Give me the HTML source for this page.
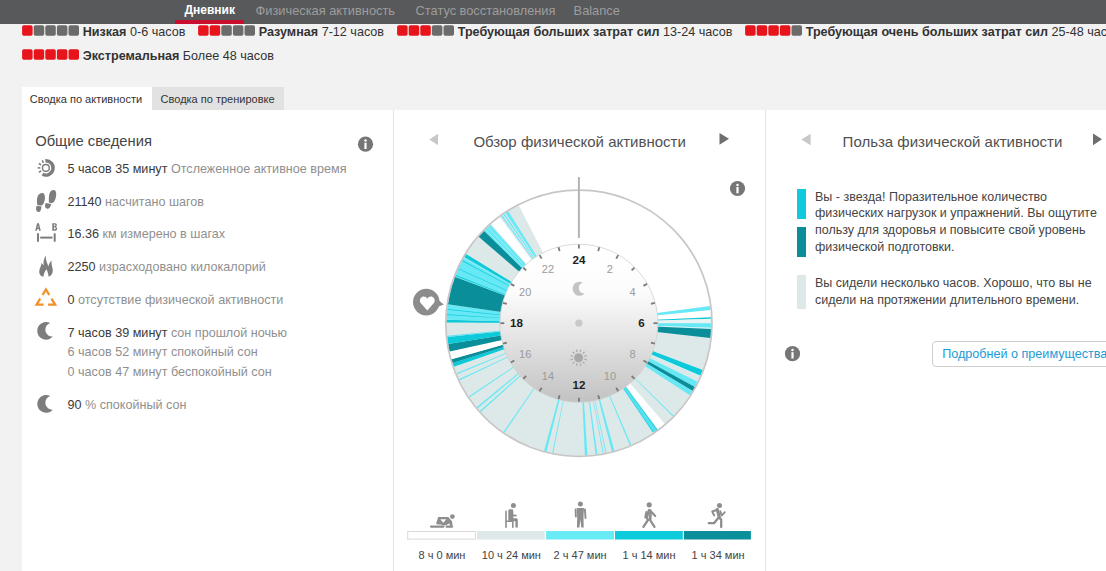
<!DOCTYPE html>
<html><head><meta charset="utf-8"><style>
html,body{margin:0;padding:0;}
body{width:1106px;height:571px;overflow:hidden;position:relative;background:#f2f2f2;font-family:"Liberation Sans",sans-serif;}
.t{position:absolute;white-space:nowrap;}
svg{position:absolute;left:0;top:0;}
</style></head><body>
<div style="position:absolute;left:0px;top:0px;width:1106px;height:24px;background:#58595b;"></div>
<div style="position:absolute;left:175px;top:20px;width:69px;height:4px;background:#c8102e;"></div>
<div class="t" style="left:184.50px;top:4.44px;font-size:12px;line-height:12px;color:#ffffff;font-weight:bold;">Дневник</div>
<div class="t" style="left:255.60px;top:4.96px;font-size:12.8px;line-height:12.8px;color:#9d9d9d;font-weight:normal;">Физическая активность</div>
<div class="t" style="left:415.60px;top:4.96px;font-size:12.8px;line-height:12.8px;color:#9d9d9d;font-weight:normal;">Статус восстановления</div>
<div class="t" style="left:573.60px;top:4.96px;font-size:12.8px;line-height:12.8px;color:#9d9d9d;font-weight:normal;">Balance</div>
<div class="t" style="left:82.70px;top:25.73px;font-size:12.6px;line-height:12.6px;color:#333;font-weight:normal;"><b>Низкая</b> 0-6 часов</div>
<div class="t" style="left:258.70px;top:25.73px;font-size:12.6px;line-height:12.6px;color:#333;font-weight:normal;"><b>Разумная</b> 7-12 часов</div>
<div class="t" style="left:457.70px;top:25.73px;font-size:12.6px;line-height:12.6px;color:#333;font-weight:normal;"><b>Требующая больших затрат сил</b> 13-24 часов</div>
<div class="t" style="left:805.70px;top:25.73px;font-size:12.6px;line-height:12.6px;color:#333;font-weight:normal;"><b>Требующая очень больших затрат сил</b> 25-48 часов</div>
<div class="t" style="left:82.70px;top:49.73px;font-size:12.6px;line-height:12.6px;color:#333;font-weight:normal;"><b>Экстремальная</b> Более 48 часов</div>
<div style="position:absolute;left:22px;top:87px;width:130px;height:24px;background:#ffffff;"></div>
<div style="position:absolute;left:152px;top:87px;width:132px;height:24px;background:#e2e2e2;"></div>
<div class="t" style="left:29.80px;top:93.69px;font-size:11px;line-height:11px;color:#333;font-weight:normal;">Сводка по активности</div>
<div class="t" style="left:160.60px;top:93.69px;font-size:11px;line-height:11px;color:#333;font-weight:normal;">Сводка по тренировке</div>
<div style="position:absolute;left:22px;top:110px;width:1084px;height:461px;background:#ffffff;"></div>
<div style="position:absolute;left:393px;top:110px;width:1px;height:461px;background:#e3e3e3;"></div>
<div style="position:absolute;left:765px;top:110px;width:1px;height:461px;background:#e3e3e3;"></div>
<div class="t" style="left:35.20px;top:133.81px;font-size:14.75px;line-height:14.75px;color:#454545;font-weight:normal;">Общие сведения</div>
<div class="t" style="left:67.50px;top:163.13px;font-size:12.6px;line-height:12.6px;color:#333;font-weight:normal;"><span style="color:#3a3a3a">5 часов 35 минут</span> <span style="color:#8f8f8f">Отслеженное активное время</span></div>
<div class="t" style="left:67.50px;top:196.23px;font-size:12.6px;line-height:12.6px;color:#333;font-weight:normal;"><span style="color:#3a3a3a">21140</span> <span style="color:#8f8f8f">насчитано шагов</span></div>
<div class="t" style="left:67.50px;top:227.83px;font-size:12.6px;line-height:12.6px;color:#333;font-weight:normal;"><span style="color:#3a3a3a">16.36</span> <span style="color:#8f8f8f">км измерено в шагах</span></div>
<div class="t" style="left:67.50px;top:260.83px;font-size:12.6px;line-height:12.6px;color:#333;font-weight:normal;"><span style="color:#3a3a3a">2250</span> <span style="color:#8f8f8f">израсходовано килокалорий</span></div>
<div class="t" style="left:67.50px;top:293.63px;font-size:12.6px;line-height:12.6px;color:#333;font-weight:normal;"><span style="color:#3a3a3a">0</span> <span style="color:#8f8f8f">отсутствие физической активности</span></div>
<div class="t" style="left:67.50px;top:326.73px;font-size:12.6px;line-height:12.6px;color:#333;font-weight:normal;"><span style="color:#3a3a3a">7 часов 39 минут</span> <span style="color:#8f8f8f">сон прошлой ночью</span></div>
<div class="t" style="left:67.50px;top:399.03px;font-size:12.6px;line-height:12.6px;color:#333;font-weight:normal;"><span style="color:#3a3a3a">90</span> <span style="color:#8f8f8f">% спокойный сон</span></div>
<div class="t" style="left:67.50px;top:346.33px;font-size:12.6px;line-height:12.6px;color:#8f8f8f;font-weight:normal;">6 часов 52 минут спокойный сон</div>
<div class="t" style="left:67.50px;top:365.93px;font-size:12.6px;line-height:12.6px;color:#8f8f8f;font-weight:normal;">0 часов 47 минут беспокойный сон</div>
<div class="t" style="left:473.40px;top:134.20px;font-size:15px;line-height:15px;color:#505050;font-weight:normal;">Обзор физической активности</div>
<div class="t" style="left:842.60px;top:134.20px;font-size:15px;line-height:15px;color:#505050;font-weight:normal;">Польза физической активности</div>
<div class="t" style="left:418.50px;top:549.59px;font-size:11px;line-height:11px;color:#444;font-weight:normal;">8 ч 0 мин</div>
<div class="t" style="left:481.80px;top:549.59px;font-size:11px;line-height:11px;color:#444;font-weight:normal;">10 ч 24 мин</div>
<div class="t" style="left:553.60px;top:549.59px;font-size:11px;line-height:11px;color:#444;font-weight:normal;">2 ч 47 мин</div>
<div class="t" style="left:622.50px;top:549.59px;font-size:11px;line-height:11px;color:#444;font-weight:normal;">1 ч 14 мин</div>
<div class="t" style="left:691.60px;top:549.59px;font-size:11px;line-height:11px;color:#444;font-weight:normal;">1 ч 34 мин</div>
<div class="t" style="left:815.00px;top:190.52px;font-size:12.5px;line-height:12.5px;color:#444444;font-weight:normal;">Вы - звезда! Поразительное количество</div>
<div class="t" style="left:815.00px;top:207.45px;font-size:12.5px;line-height:12.5px;color:#444444;font-weight:normal;">физических нагрузок и упражнений. Вы ощутите</div>
<div class="t" style="left:815.00px;top:224.38px;font-size:12.5px;line-height:12.5px;color:#444444;font-weight:normal;">пользу для здоровья и повысите свой уровень</div>
<div class="t" style="left:815.00px;top:241.31px;font-size:12.5px;line-height:12.5px;color:#444444;font-weight:normal;">физической подготовки.</div>
<div class="t" style="left:815.00px;top:276.72px;font-size:12.5px;line-height:12.5px;color:#444444;font-weight:normal;">Вы сидели несколько часов. Хорошо, что вы не</div>
<div class="t" style="left:815.00px;top:293.82px;font-size:12.5px;line-height:12.5px;color:#444444;font-weight:normal;">сидели на протяжении длительного времени.</div>
<div style="position:absolute;left:797px;top:189px;width:9px;height:30px;background:#12c8dc;"></div>
<div style="position:absolute;left:797px;top:227px;width:9px;height:30px;background:#0b8e9a;"></div>
<div style="position:absolute;left:797px;top:275px;width:9px;height:33.5px;background:#dde8e9;"></div>
<div style="position:absolute;left:932px;top:341.3px;width:200px;height:25.3px;box-sizing:border-box;border:1px solid #cfcfcf;border-radius:4px;background:#fff"></div>
<div class="t" style="left:942.20px;top:347.93px;font-size:12.6px;line-height:12.6px;color:#1b9bd6;font-weight:normal;">Подробней о преимуществах</div>
<svg width="1106" height="571" viewBox="0 0 1106 571">
<rect x="22.10" y="25.2" width="10.5" height="10.6" rx="1.8" fill="#e8141b"/>
<rect x="33.70" y="25.2" width="10.5" height="10.6" rx="1.8" fill="#6b6b6b"/>
<rect x="45.30" y="25.2" width="10.5" height="10.6" rx="1.8" fill="#6b6b6b"/>
<rect x="56.90" y="25.2" width="10.5" height="10.6" rx="1.8" fill="#6b6b6b"/>
<rect x="68.50" y="25.2" width="10.5" height="10.6" rx="1.8" fill="#6b6b6b"/>
<rect x="198.10" y="25.2" width="10.5" height="10.6" rx="1.8" fill="#e8141b"/>
<rect x="209.70" y="25.2" width="10.5" height="10.6" rx="1.8" fill="#e8141b"/>
<rect x="221.30" y="25.2" width="10.5" height="10.6" rx="1.8" fill="#6b6b6b"/>
<rect x="232.90" y="25.2" width="10.5" height="10.6" rx="1.8" fill="#6b6b6b"/>
<rect x="244.50" y="25.2" width="10.5" height="10.6" rx="1.8" fill="#6b6b6b"/>
<rect x="397.10" y="25.2" width="10.5" height="10.6" rx="1.8" fill="#e8141b"/>
<rect x="408.70" y="25.2" width="10.5" height="10.6" rx="1.8" fill="#e8141b"/>
<rect x="420.30" y="25.2" width="10.5" height="10.6" rx="1.8" fill="#e8141b"/>
<rect x="431.90" y="25.2" width="10.5" height="10.6" rx="1.8" fill="#6b6b6b"/>
<rect x="443.50" y="25.2" width="10.5" height="10.6" rx="1.8" fill="#6b6b6b"/>
<rect x="745.10" y="25.2" width="10.5" height="10.6" rx="1.8" fill="#e8141b"/>
<rect x="756.70" y="25.2" width="10.5" height="10.6" rx="1.8" fill="#e8141b"/>
<rect x="768.30" y="25.2" width="10.5" height="10.6" rx="1.8" fill="#e8141b"/>
<rect x="779.90" y="25.2" width="10.5" height="10.6" rx="1.8" fill="#e8141b"/>
<rect x="791.50" y="25.2" width="10.5" height="10.6" rx="1.8" fill="#6b6b6b"/>
<rect x="22.10" y="49.2" width="10.5" height="10.6" rx="1.8" fill="#e8141b"/>
<rect x="33.70" y="49.2" width="10.5" height="10.6" rx="1.8" fill="#e8141b"/>
<rect x="45.30" y="49.2" width="10.5" height="10.6" rx="1.8" fill="#e8141b"/>
<rect x="56.90" y="49.2" width="10.5" height="10.6" rx="1.8" fill="#e8141b"/>
<rect x="68.50" y="49.2" width="10.5" height="10.6" rx="1.8" fill="#e8141b"/>
<circle cx="365.5" cy="144.2" r="7.6" fill="#767676"/>
<circle cx="365.5" cy="140.6" r="1.25" fill="#fff"/>
<rect x="364.4" y="142.7" width="2.2" height="6.3" fill="#fff"/>
<circle cx="737.5" cy="188.5" r="7.6" fill="#767676"/>
<circle cx="737.5" cy="184.9" r="1.25" fill="#fff"/>
<rect x="736.4" y="187.0" width="2.2" height="6.3" fill="#fff"/>
<circle cx="792.5" cy="353.7" r="7.6" fill="#767676"/>
<circle cx="792.5" cy="350.09999999999997" r="1.25" fill="#fff"/>
<rect x="791.4" y="352.2" width="2.2" height="6.3" fill="#fff"/>
<path d="M438,133.7 L438,145.3 L429.3,139.5 Z" fill="#c8c8c8"/>
<path d="M719.5,133 L719.5,144.7 L729,138.85 Z" fill="#6e6e6e"/>
<path d="M810.6,133.7 L810.6,145.3 L801.4,139.5 Z" fill="#c8c8c8"/>
<path d="M1093,133.5 L1093,145.2 L1102,139.35 Z" fill="#6e6e6e"/>
<path d="M578.9,323.2 L711.17,317.31 A132.4,132.4 0 1 1 518.79,205.23 Z" fill="#dde8e9"/>
<path d="M578.9,323.2 L710.17,305.92 A132.4,132.4 0 0 1 710.65,310.05 Z" fill="#66e8f5"/>
<path d="M578.9,323.2 L711.17,317.31 A132.4,132.4 0 0 1 711.22,318.69 Z" fill="#0ccad9"/>
<path d="M578.9,323.2 L711.22,318.69 A132.4,132.4 0 0 1 711.30,323.20 Z" fill="#e8f2f3"/>
<path d="M578.9,323.2 L711.30,323.20 A132.4,132.4 0 0 1 711.22,327.71 Z" fill="#66e8f5"/>
<path d="M578.9,323.2 L711.22,327.71 A132.4,132.4 0 0 1 711.17,329.09 Z" fill="#c9f5f9"/>
<path d="M578.9,323.2 L711.17,329.09 A132.4,132.4 0 0 1 710.46,338.07 Z" fill="#0a8f9a"/>
<path d="M578.9,323.2 L702.75,370.00 A132.4,132.4 0 0 1 700.41,375.78 Z" fill="#0ccad9"/>
<path d="M578.9,323.2 L700.41,375.78 A132.4,132.4 0 0 1 699.99,376.74 Z" fill="#c9f5f9"/>
<path d="M578.9,323.2 L697.65,381.76 A132.4,132.4 0 0 1 694.92,386.98 Z" fill="#66e8f5"/>
<path d="M578.9,323.2 L694.92,386.98 A132.4,132.4 0 0 1 692.69,390.90 Z" fill="#0a8f9a"/>
<path d="M578.9,323.2 L692.69,390.90 A132.4,132.4 0 0 1 689.94,395.31 Z" fill="#66e8f5"/>
<path d="M578.9,323.2 L664.89,423.88 A132.4,132.4 0 0 1 658.12,429.29 Z" fill="#ffffff"/>
<path d="M578.9,323.2 L657.28,429.90 A132.4,132.4 0 0 1 653.32,432.71 Z" fill="#52e2f0"/>
<path d="M578.9,323.2 L453.86,366.74 A132.4,132.4 0 0 1 452.66,363.12 Z" fill="#0ccad9"/>
<path d="M578.9,323.2 L452.66,363.12 A132.4,132.4 0 0 1 451.47,359.14 Z" fill="#0a8f9a"/>
<path d="M578.9,323.2 L451.47,359.14 A132.4,132.4 0 0 1 449.54,351.41 Z" fill="#ffffff"/>
<path d="M578.9,323.2 L449.54,351.41 A132.4,132.4 0 0 1 448.13,343.91 Z" fill="#0a8f9a"/>
<path d="M578.9,323.2 L448.13,343.91 A132.4,132.4 0 0 1 447.23,337.04 Z" fill="#0ccad9"/>
<path d="M578.9,323.2 L447.23,337.04 A132.4,132.4 0 0 1 447.09,335.66 Z" fill="#5fe3ef"/>
<path d="M578.9,323.2 L446.50,322.51 A132.4,132.4 0 0 1 446.55,319.73 Z" fill="#0ccad9"/>
<path d="M578.9,323.2 L446.55,319.73 A132.4,132.4 0 0 1 447.87,304.20 Z" fill="#66e8f5"/>
<path d="M578.9,323.2 L447.87,304.20 A132.4,132.4 0 0 1 454.93,276.72 Z" fill="#0a8f9a"/>
<path d="M578.9,323.2 L454.93,276.72 A132.4,132.4 0 0 1 464.24,257.00 Z" fill="#66e8f5"/>
<path d="M578.9,323.2 L464.24,257.00 A132.4,132.4 0 0 1 466.01,254.02 Z" fill="#0ccad9"/>
<path d="M578.9,323.2 L478.67,236.69 A132.4,132.4 0 0 1 484.06,230.81 Z" fill="#0a8f9a"/>
<path d="M578.9,323.2 L484.06,230.81 A132.4,132.4 0 0 1 490.31,224.81 Z" fill="#66e8f5"/>
<path d="M578.9,323.2 L491.08,224.11 A132.4,132.4 0 0 1 499.68,217.11 Z" fill="#ffffff"/>
<path d="M578.9,323.2 L501.08,216.09 A132.4,132.4 0 0 1 502.20,215.28 Z" fill="#66e8f5"/>
<path d="M578.9,323.2 L503.34,214.48 A132.4,132.4 0 0 1 504.48,213.69 Z" fill="#66e8f5"/>
<path d="M578.9,323.2 L505.63,212.92 A132.4,132.4 0 0 1 508.25,211.23 Z" fill="#66e8f5"/>
<path d="M578.9,323.2 L673.62,415.71 A132.4,132.4 0 0 1 672.89,416.45 Z" fill="#66e8f5"/>
<path d="M578.9,323.2 L631.16,444.85 A132.4,132.4 0 0 1 629.89,445.39 Z" fill="#66e8f5"/>
<path d="M578.9,323.2 L614.42,450.75 A132.4,132.4 0 0 1 611.91,451.42 Z" fill="#66e8f5"/>
<path d="M578.9,323.2 L606.34,452.72 A132.4,132.4 0 0 1 605.49,452.90 Z" fill="#66e8f5"/>
<path d="M578.9,323.2 L603.62,453.27 A132.4,132.4 0 0 1 602.77,453.43 Z" fill="#66e8f5"/>
<path d="M578.9,323.2 L597.38,454.30 A132.4,132.4 0 0 1 595.67,454.53 Z" fill="#66e8f5"/>
<path d="M578.9,323.2 L587.47,455.32 A132.4,132.4 0 0 1 584.88,455.47 Z" fill="#66e8f5"/>
<path d="M578.9,323.2 L553.24,453.09 A132.4,132.4 0 0 1 552.22,452.88 Z" fill="#66e8f5"/>
<path d="M578.9,323.2 L546.56,451.59 A132.4,132.4 0 0 1 544.05,450.93 Z" fill="#66e8f5"/>
<path d="M578.9,323.2 L504.41,432.66 A132.4,132.4 0 0 1 503.41,431.97 Z" fill="#66e8f5"/>
<path d="M578.9,323.2 L480.80,412.11 A132.4,132.4 0 0 1 479.76,410.95 Z" fill="#66e8f5"/>
<path d="M578.9,323.2 L477.61,408.46 A132.4,132.4 0 0 1 476.61,407.26 Z" fill="#66e8f5"/>
<path d="M578.9,323.2 L469.35,397.55 A132.4,132.4 0 0 1 468.67,396.54 Z" fill="#66e8f5"/>
<path d="M578.9,323.2 L459.51,380.43 A132.4,132.4 0 0 1 458.99,379.34 Z" fill="#66e8f5"/>
<path d="M578.9,323.2 L456.81,374.43 A132.4,132.4 0 0 1 456.35,373.31 Z" fill="#66e8f5"/>
<path d="M578.9,323.2 L446.51,321.81 A132.4,132.4 0 0 1 446.53,320.43 Z" fill="#0ccad9"/>
<path d="M578.9,323.2 L446.76,314.89 A132.4,132.4 0 0 1 446.81,314.19 Z" fill="#0ccad9"/>
<path d="M578.9,323.2 L447.19,309.71 A132.4,132.4 0 0 1 447.26,309.02 Z" fill="#0ccad9"/>
<path d="M578.9,323.2 L455.23,275.91 A132.4,132.4 0 0 1 455.61,274.94 Z" fill="#0ccad9"/>
<path d="M578.9,323.2 L458.09,269.03 A132.4,132.4 0 0 1 458.37,268.40 Z" fill="#0ccad9"/>
<path d="M578.9,323.2 L462.01,261.02 A132.4,132.4 0 0 1 462.42,260.25 Z" fill="#0ccad9"/>
<path d="M578.9,323.2 L657.42,429.80 A132.4,132.4 0 0 1 656.86,430.21 Z" fill="#0ccad9"/>
<path d="M578.9,323.2 L653.75,432.41 A132.4,132.4 0 0 1 653.18,432.80 Z" fill="#0ccad9"/>
<path d="M578.9,323.2 L485.10,229.76 A132.4,132.4 0 0 1 485.46,229.40 Z" fill="#b8f3f8"/>
<path d="M578.9,323.2 L487.57,227.34 A132.4,132.4 0 0 1 487.95,226.98 Z" fill="#b8f3f8"/>
<path d="M578.9,323.2 L463.59,258.13 A132.4,132.4 0 0 1 463.85,257.68 Z" fill="#b8f3f8"/>
<circle cx="578.9" cy="323.2" r="133.1" fill="none" stroke="#c6c6c6" stroke-width="1.7"/>
<defs><linearGradient id="dg" x1="0" y1="0" x2="0" y2="1"><stop offset="0" stop-color="#ffffff"/><stop offset="0.3" stop-color="#fcfcfc"/><stop offset="1" stop-color="#c2c2c2"/></linearGradient></defs>
<circle cx="578.9" cy="323.2" r="79" fill="url(#dg)" stroke="#d0d0d0" stroke-width="0.8"/>
<line x1="578.90" y1="244.60" x2="578.90" y2="248.60" stroke="#7a7a7a" stroke-width="1.8"/>
<line x1="599.24" y1="247.28" x2="598.21" y2="251.14" stroke="#7a7a7a" stroke-width="1.8"/>
<line x1="618.20" y1="255.13" x2="616.20" y2="258.59" stroke="#7a7a7a" stroke-width="1.8"/>
<line x1="634.48" y1="267.62" x2="631.65" y2="270.45" stroke="#7a7a7a" stroke-width="1.8"/>
<line x1="646.97" y1="283.90" x2="643.51" y2="285.90" stroke="#7a7a7a" stroke-width="1.8"/>
<line x1="654.82" y1="302.86" x2="650.96" y2="303.89" stroke="#7a7a7a" stroke-width="1.8"/>
<line x1="657.50" y1="323.20" x2="653.50" y2="323.20" stroke="#7a7a7a" stroke-width="1.8"/>
<line x1="654.82" y1="343.54" x2="650.96" y2="342.51" stroke="#7a7a7a" stroke-width="1.8"/>
<line x1="646.97" y1="362.50" x2="643.51" y2="360.50" stroke="#7a7a7a" stroke-width="1.8"/>
<line x1="634.48" y1="378.78" x2="631.65" y2="375.95" stroke="#7a7a7a" stroke-width="1.8"/>
<line x1="618.20" y1="391.27" x2="616.20" y2="387.81" stroke="#7a7a7a" stroke-width="1.8"/>
<line x1="599.24" y1="399.12" x2="598.21" y2="395.26" stroke="#7a7a7a" stroke-width="1.8"/>
<line x1="578.90" y1="401.80" x2="578.90" y2="397.80" stroke="#7a7a7a" stroke-width="1.8"/>
<line x1="558.56" y1="399.12" x2="559.59" y2="395.26" stroke="#7a7a7a" stroke-width="1.8"/>
<line x1="539.60" y1="391.27" x2="541.60" y2="387.81" stroke="#7a7a7a" stroke-width="1.8"/>
<line x1="523.32" y1="378.78" x2="526.15" y2="375.95" stroke="#7a7a7a" stroke-width="1.8"/>
<line x1="510.83" y1="362.50" x2="514.29" y2="360.50" stroke="#7a7a7a" stroke-width="1.8"/>
<line x1="502.98" y1="343.54" x2="506.84" y2="342.51" stroke="#7a7a7a" stroke-width="1.8"/>
<line x1="500.30" y1="323.20" x2="504.30" y2="323.20" stroke="#7a7a7a" stroke-width="1.8"/>
<line x1="502.98" y1="302.86" x2="506.84" y2="303.89" stroke="#7a7a7a" stroke-width="1.8"/>
<line x1="510.83" y1="283.90" x2="514.29" y2="285.90" stroke="#7a7a7a" stroke-width="1.8"/>
<line x1="523.32" y1="267.62" x2="526.15" y2="270.45" stroke="#7a7a7a" stroke-width="1.8"/>
<line x1="539.60" y1="255.13" x2="541.60" y2="258.59" stroke="#7a7a7a" stroke-width="1.8"/>
<line x1="558.56" y1="247.28" x2="559.59" y2="251.14" stroke="#7a7a7a" stroke-width="1.8"/>
<rect x="577.9" y="177" width="2" height="61" fill="#b4b4b4"/>
<circle cx="578.9" cy="323.2" r="3.6" fill="#c9c9c9"/>
<text x="578.90" y="264.00" text-anchor="middle" font-family="Liberation Sans" font-weight="bold" font-size="11.6" fill="#1e1e1e">24</text>
<text x="609.90" y="273.11" text-anchor="middle" font-family="Liberation Sans" font-size="11" fill="#9a9a9a">2</text>
<text x="632.59" y="295.80" text-anchor="middle" font-family="Liberation Sans" font-size="11" fill="#9a9a9a">4</text>
<text x="641.40" y="326.50" text-anchor="middle" font-family="Liberation Sans" font-weight="bold" font-size="11.6" fill="#1e1e1e">6</text>
<text x="632.59" y="357.80" text-anchor="middle" font-family="Liberation Sans" font-size="11" fill="#9a9a9a">8</text>
<text x="609.90" y="380.49" text-anchor="middle" font-family="Liberation Sans" font-size="11" fill="#9a9a9a">10</text>
<text x="578.90" y="389.00" text-anchor="middle" font-family="Liberation Sans" font-weight="bold" font-size="11.6" fill="#1e1e1e">12</text>
<text x="547.90" y="380.49" text-anchor="middle" font-family="Liberation Sans" font-size="11" fill="#9a9a9a">14</text>
<text x="525.21" y="357.80" text-anchor="middle" font-family="Liberation Sans" font-size="11" fill="#9a9a9a">16</text>
<text x="516.40" y="326.50" text-anchor="middle" font-family="Liberation Sans" font-weight="bold" font-size="11.6" fill="#1e1e1e">18</text>
<text x="525.21" y="295.80" text-anchor="middle" font-family="Liberation Sans" font-size="11" fill="#9a9a9a">20</text>
<text x="547.90" y="273.11" text-anchor="middle" font-family="Liberation Sans" font-size="11" fill="#9a9a9a">22</text>
<path d="M45.40,160.72 A7.2,7.2 0 1 1 42.52,174.26" fill="none" stroke="#7d7d7d" stroke-width="3.4"/>
<circle cx="45.9" cy="167.9" r="3.4" fill="none" stroke="#7d7d7d" stroke-width="1.4"/>
<line x1="41.15" y1="170.87" x2="38.86" y2="172.30" stroke="#7d7d7d" stroke-width="1.5"/>
<line x1="40.30" y1="167.90" x2="37.60" y2="167.90" stroke="#7d7d7d" stroke-width="1.5"/>
<line x1="41.15" y1="164.93" x2="38.86" y2="163.50" stroke="#7d7d7d" stroke-width="1.5"/>
<line x1="43.45" y1="162.87" x2="42.26" y2="160.44" stroke="#7d7d7d" stroke-width="1.5"/>
<g fill="#7d7d7d">
<path d="M42.5,192.9 C44.9,193.2 45.3,197 44.7,200 C44.1,203 43,205 41.6,205.4 L37.4,205.2 C36.7,203 36.8,199 37.6,196.5 C38.4,194 40.5,192.7 42.5,192.9 Z"/>
<path d="M36.4,206.1 L41.3,206.2 C41.4,208.2 41,210.5 39.6,211.7 C38.1,212.3 36.5,211.6 36.2,210 C36,208.5 36.1,207.2 36.4,206.1 Z"/>
<path d="M53.9,190 C56.3,190.3 56.5,194 55.9,197 C55.3,200 54,202.6 51.5,203.3 L48.9,202.4 C48.7,199 48.8,195.5 49.7,193 C50.5,191 52,189.8 53.9,190 Z"/>
<path d="M45.6,203 L51.1,204.1 C50.9,206.2 49.9,208.1 48.1,208.8 C46.5,209.1 45.2,208.1 45.1,206.6 C45,205.2 45.2,204 45.6,203 Z"/>
</g>
<g fill="#7d7d7d" fill-rule="evenodd">
<path d="M35.2,230.7 L37.1,223.2 L38.9,223.2 L40.8,230.7 L39.1,230.7 L38.7,229.1 L37.3,229.1 L36.9,230.7 Z M37.6,227.7 L38.4,227.7 L38,225.4 Z"/>
<path d="M52.3,223.2 L55,223.2 C56.4,223.2 56.9,224.1 56.9,225 C56.9,225.8 56.5,226.4 55.9,226.7 C56.6,227 57.1,227.8 57.1,228.7 C57.1,229.9 56.2,230.7 55,230.7 L52.3,230.7 Z M53.9,224.5 L54.8,224.5 C55.3,224.5 55.4,224.9 55.4,225.2 C55.4,225.6 55.2,226 54.8,226 L53.9,226 Z M53.9,227.3 L54.9,227.3 C55.4,227.3 55.6,227.7 55.6,228.2 C55.6,228.7 55.3,229.3 54.9,229.3 L53.9,229.3 Z"/>
<rect x="37" y="233.3" width="2" height="8.4"/>
<rect x="53.7" y="233.3" width="2" height="8.4"/>
<rect x="40.2" y="236.6" width="12.3" height="2"/>
</g>
<path d="M46.2,255.3 C44,258 43,261.5 43.7,265.6 C42.9,264.5 42.2,263.6 41.5,263.1 C41.6,266 39.1,268.5 39.2,272 C39.3,274.6 41,276.3 43.5,276.7 C43.6,274.2 44.6,271.6 46.6,269.2 C47.6,271.6 48.4,274.2 48.6,276.7 C51.4,275.8 52.9,273.2 52.8,270.2 C52.7,266.6 50.8,264.3 51.7,260.7 C49.8,261.9 48.7,264 48.5,266.6 C47.3,263 45.1,259.6 46.2,255.3 Z" fill="#7d7d7d"/>
<g fill="none" stroke="#f0912d" stroke-width="2.3" stroke-linejoin="miter">
<path d="M42.5,295 L45.9,289.4 L49.3,295"/>
<path d="M40.2,298.6 L36.6,304.6 L43.6,304.6"/>
<path d="M51.5,298.6 L55.1,304.6 L48.1,304.6"/>
</g>
<path d="M50.24,322.92 A8.90,8.90 0 1 0 52.86,336.59 A7.00,7.00 0 0 1 50.24,322.92 Z" fill="#7d7d7d"/>
<path d="M50.24,396.02 A8.90,8.90 0 1 0 52.86,409.69 A7.00,7.00 0 0 1 50.24,396.02 Z" fill="#7d7d7d"/>
<g>
<circle cx="426.3" cy="302.1" r="13.3" fill="#8c8c8c"/>
<path d="M436.6,298.8 L443.8,304.4 L435,308 Z" fill="#8c8c8c"/>
<path d="M427.3,310.4 L420.9,303.3 C419.3,301.3 419.7,298.1 422,296.9 C424,295.9 426.2,296.8 427.3,298.8 C428.4,296.8 430.6,295.9 432.6,296.9 C434.9,298.1 435.3,301.3 433.7,303.3 Z" fill="#fff"/>
</g>
<path d="M582.73,282.66 A6.94,6.94 0 1 0 584.77,293.32 A5.46,5.46 0 0 1 582.73,282.66 Z" fill="#c3c3c3"/>
<circle cx="578.6" cy="357.7" r="4.5" fill="#a9a9a9"/>
<line x1="580.13" y1="352.00" x2="580.77" y2="349.59" stroke="#acacac" stroke-width="1.3"/>
<line x1="582.77" y1="353.53" x2="584.54" y2="351.76" stroke="#acacac" stroke-width="1.3"/>
<line x1="584.30" y1="356.17" x2="586.71" y2="355.53" stroke="#acacac" stroke-width="1.3"/>
<line x1="584.30" y1="359.23" x2="586.71" y2="359.87" stroke="#acacac" stroke-width="1.3"/>
<line x1="582.77" y1="361.87" x2="584.54" y2="363.64" stroke="#acacac" stroke-width="1.3"/>
<line x1="580.13" y1="363.40" x2="580.77" y2="365.81" stroke="#acacac" stroke-width="1.3"/>
<line x1="577.07" y1="363.40" x2="576.43" y2="365.81" stroke="#acacac" stroke-width="1.3"/>
<line x1="574.43" y1="361.87" x2="572.66" y2="363.64" stroke="#acacac" stroke-width="1.3"/>
<line x1="572.90" y1="359.23" x2="570.49" y2="359.87" stroke="#acacac" stroke-width="1.3"/>
<line x1="572.90" y1="356.17" x2="570.49" y2="355.53" stroke="#acacac" stroke-width="1.3"/>
<line x1="574.43" y1="353.53" x2="572.66" y2="351.76" stroke="#acacac" stroke-width="1.3"/>
<line x1="577.07" y1="352.00" x2="576.43" y2="349.59" stroke="#acacac" stroke-width="1.3"/>
<rect x="407.7" y="531.5" width="67.6" height="7.6" fill="#fff" stroke="#d9d9d9" stroke-width="1"/>
<rect x="477" y="531" width="67.7" height="8.5" fill="#dde8e9"/>
<rect x="546.1" y="531" width="67.9" height="8.5" fill="#69ebf5"/>
<rect x="615" y="531" width="67.8" height="8.5" fill="#0ccbdb"/>
<rect x="684" y="531" width="66.9" height="8.5" fill="#0a8f9b"/>
<g fill="#8e8e8e" stroke="none">
<circle cx="452.4" cy="516.6" r="2.4"/>
<circle cx="513.4" cy="505.4" r="2.5"/>
<circle cx="580.4" cy="503.9" r="2.5"/>
<circle cx="649.2" cy="504.8" r="2.6"/>
<circle cx="719.5" cy="505.4" r="2.5"/>
</g>
<g fill="none" stroke="#8e8e8e" stroke-linecap="round" stroke-linejoin="round">
<path d="M431,526.6 L443.5,526.6 M446.5,526.6 L452.2,526.6" stroke-width="2.1"/>
<path d="M438.2,516.9 L448.3,516.9 L452.1,521.5 L452.6,525.8 L449.8,525.8 L449.5,523.2 L446.5,524.9 L443.8,525.4 L440.5,524.4 L437.8,524.6 L436,523.7 Z M440.3,519.3 L446.3,519.3 L443.3,522.7 Z" fill="#8e8e8e" fill-rule="evenodd" stroke="none"/>
<path d="M506,511.2 L506,527.2 M506,521.2 L512.8,521.2 L512.8,527.2" stroke-width="1.6"/>
<path d="M509.5,509.2 L512.2,509.2 Q513.3,509.5 513.3,511 L513.3,514.6 L516.6,514.8 L516.8,516.2 L513.3,516.4 L513.3,518.2 L516.4,518.2 Q517.8,518.3 517.8,519.8 L517.8,527.5 L515.4,527.5 L515.4,521.2 L509.5,521.2 Q508.3,521 508.3,519.8 L508.3,510.6 Q508.4,509.3 509.5,509.2 Z" fill="#8e8e8e" stroke="none"/>
<path d="M576.7,507.9 L584,507.9 L583.5,516 L583.7,527.4 L581.3,527.4 L580.4,519.6 L579.4,527.4 L577,527.4 L577.2,516 Z" fill="#8e8e8e" stroke="none"/>
<path d="M575.6,509.4 L575.9,516.6 M584.9,509.4 L585.5,518" stroke-width="1.9"/>
<path d="M648.8,510 L647,518.6 M646.4,512 L645.3,517.4 M651.8,512.2 L655.2,516" stroke-width="2.1"/>
<path d="M649.2,510.3 L650.5,510.5 L650.3,519" stroke-width="2.6"/>
<path d="M648.3,519.5 L643.4,526.8 M649.8,519.5 L654.5,526.8" stroke-width="2.3"/>
<path d="M717.3,509.6 L719.4,517.6" stroke-width="3.2"/>
<path d="M716.8,510 L712.2,511.5 L714.2,515.5 M720.3,511.2 L721.6,515.6 L724.8,512.2" stroke-width="1.9"/>
<path d="M718,518.2 L714.2,523 L708.8,523.2 M719.8,518.2 L721.2,519.6 L721.2,527" stroke-width="2.3"/>
</g>
</svg>
</body></html>
